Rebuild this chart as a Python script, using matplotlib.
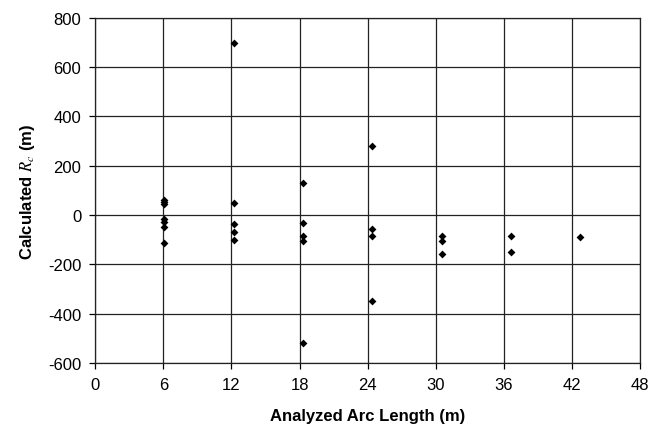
import matplotlib.pyplot as plt

plt.rcParams["font.family"] = ["Liberation Sans", "DejaVu Sans"]
plt.rcParams["axes.unicode_minus"] = False
plt.rcParams["mathtext.fontset"] = "stix"

# analyzed arc lengths (m) and the radius computed for each
arc_6 = [60, 52, 45, -15, -30, -50, -115]
arc_12 = [700, 48, -37, -69, -102]
arc_18 = [130, -32, -85, -105, -520]
arc_24 = [280, -57, -85, -350]
arc_30 = [-85, -105, -158]
arc_36 = [-85, -150]
arc_42 = [-88]

arc_lengths = [6.1, 12.2, 18.3, 24.4, 30.5, 36.6, 42.7]
radii = [arc_6, arc_12, arc_18, arc_24, arc_30, arc_36, arc_42]

x_ticks = [0, 6, 12, 18, 24, 30, 36, 42, 48]
y_ticks = [-600, -400, -200, 0, 200, 400, 600, 800]


def generate_plot():

    fig = plt.figure(figsize=(6.56, 4.39), dpi=100)
    ax = fig.add_axes([0.145, 0.171, 0.831, 0.786])

    xs = []
    ys = []
    for length, values in zip(arc_lengths, radii):
        xs.extend([length] * len(values))
        ys.extend(values)

    ax.scatter(xs, ys, marker="D", s=16, color="black", zorder=3, linewidths=0)

    ax.set_xlim(0, 48)
    ax.set_ylim(-600, 800)
    ax.set_xticks(x_ticks)
    ax.set_yticks(y_ticks)

    ax.grid(True, color="#222222", linewidth=0.9)
    ax.set_axisbelow(True)

    for spine in ax.spines.values():
        spine.set_color("#222222")
        spine.set_linewidth(0.9)

    ax.tick_params(direction="out", length=4, width=0.9, labelsize=12, pad=6)

    ax.set_xlabel("Analyzed Arc Length (m)", fontsize=12, fontweight="bold", labelpad=12)
    ax.set_ylabel(r"Calculated $R_c$ (m)", fontsize=12, fontweight="bold", labelpad=8)

    fig.savefig("out.png", dpi=100)


if __name__ == "__main__":

    generate_plot()
